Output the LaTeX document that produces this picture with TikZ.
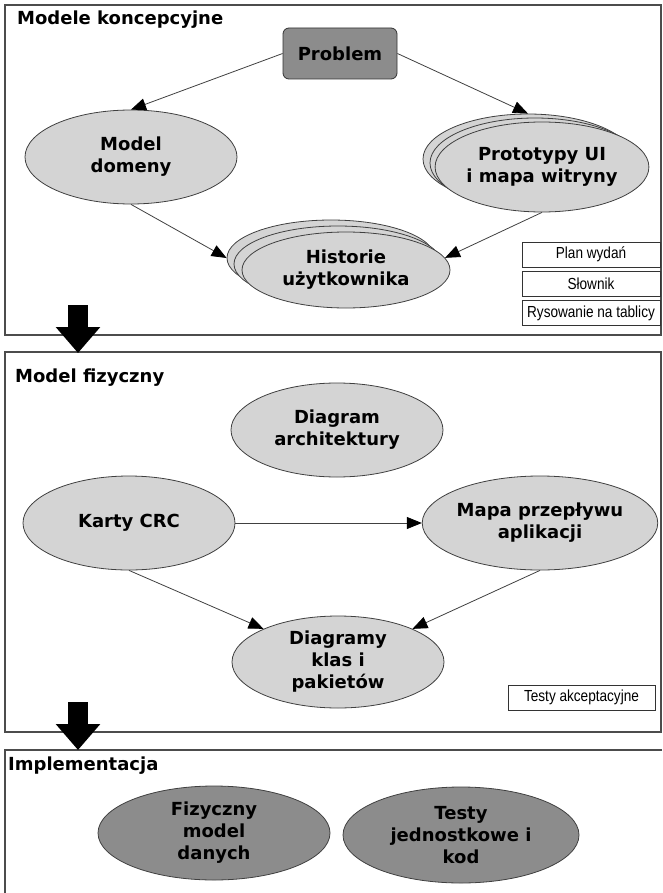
\documentclass[tikz,border=0pt]{standalone}
\usepackage{fontspec}
\setmainfont{DejaVu Sans}
\newfontfamily\narrowfont[FakeStretch=0.85]{Liberation Sans}
\usetikzlibrary{shapes.geometric,arrows.meta}

\newcommand\boldtext{\bfseries\fontsize{18}{22}\selectfont}

\tikzset{
  panel/.style={draw=black!70, line width=1.5pt},
  heading/.style={anchor=base west, inner sep=0pt, font=\boldtext},
  idea/.style={ellipse, draw=black!75, line width=0.8pt, fill=black!17, minimum width=212pt, minimum height=94pt, inner sep=0pt, align=center, font=\boldtext},
  darkidea/.style={idea, fill=black!45},
  tag/.style={draw=black!80, line width=1pt, minimum width=138pt, minimum height=25pt, inner sep=0pt, font=\narrowfont\fontsize{16}{18}\selectfont},
  link/.style={draw=black!75, line width=0.8pt, -{Triangle[length=15pt,width=12pt,color=black]}},
  bigarrow/.style={line width=20pt, -{Triangle[length=26pt,width=43pt]}}
}

\begin{document}
\begin{tikzpicture}[x=1pt, y=-1pt]
  \useasboundingbox (0,0) rectangle (662,893);

  % Modele koncepcyjne
  \draw[panel] (5,5) rectangle (661,335);
  \node[heading] (head1) at (17,25) {Modele koncepcyjne};

  \node[draw=black!80, line width=0.8pt, fill=black!45, rounded corners=6pt, minimum width=114pt, minimum height=51pt, font=\boldtext] (prob) at (340,53.5) {Problem};
  \node[idea] (dom) at (131,157) {Model\\domeny};

  \node[idea, minimum width=210pt, minimum height=90pt] (proto3) at (528,159) {};
  \node[idea, minimum width=210pt, minimum height=90pt] (proto2) at (535,163) {};
  \node[idea, minimum width=210pt, minimum height=90pt] (proto) at (542,167) {Prototypy UI\\i mapa witryny};

  \node[idea, minimum width=208pt, minimum height=76pt] (hist3) at (331,258) {};
  \node[idea, minimum width=208pt, minimum height=76pt] (hist2) at (338,264) {};
  \node[idea, minimum width=208pt, minimum height=76pt] (hist) at (346,270) {Historie\\użytkownika};

  \draw[link] (prob.west) -- (dom.north);
  \draw[link] (prob.east) -- (proto3.north);
  \draw[link] (dom.south) -- (hist3.west);
  \draw[link] (proto.south) -- (hist.7);

  \node[tag] (plan) at (591,254.5) {Plan wydań};
  \node[tag] (dict) at (591,284) {Słownik};
  \node[tag] (board) at (591,313) {Rysowanie na tablicy};

  % Model fizyczny
  \draw[panel] (5,352) rectangle (661,732);
  \node[heading] (head2) at (15,382) {Model fizyczny};

  \node[idea] (arch) at (337,430) {Diagram\\architektury};
  \node[idea] (crc) at (129,523) {Karty CRC};
  \node[idea] (flow) at (540,523) {Mapa przepływu\\aplikacji};
  \node[idea, minimum height=92pt] (cls) at (338,662) {Diagramy\\klas i\\pakietów};

  \draw[link] (crc.east) -- (flow.west);
  \draw[link] (crc.south) -- (cls.156);
  \draw[link] (flow.south) -- (cls.24);

  \node[tag, minimum width=147pt] (accept) at (581.5,697.5) {Testy akceptacyjne};

  % Implementacja
  \draw[panel] (662,750) -- (5,750) -- (5,893);
  \node[heading] (head3) at (8,770) {Implementacja};

  \node[darkidea, minimum width=232pt, minimum height=94pt] (data) at (214,833) {Fizyczny\\model\\danych};
  \node[darkidea, minimum width=236pt, minimum height=96pt] (unit) at (461,835) {Testy\\jednostkowe i\\kod};

  % strzalki miedzy etapami
  \coordinate (down1a) at (78,305);
  \coordinate (down1b) at (78,353);
  \coordinate (down2a) at (78,702);
  \coordinate (down2b) at (78,750);
  \draw[bigarrow] (down1a) -- (down1b);
  \draw[bigarrow] (down2a) -- (down2b);

\end{tikzpicture}
\end{document}
